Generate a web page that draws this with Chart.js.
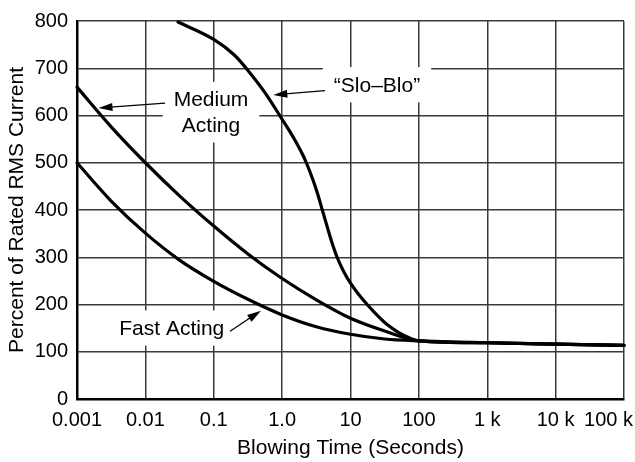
<!DOCTYPE html>
<html><head><meta charset="utf-8">
<script src="https://cdn.jsdelivr.net/npm/chart.js@4/dist/chart.umd.min.js"></script>
<style>html,body{margin:0;padding:0;background:#fff}#wrap{width:635px;height:462px}</style>
</head><body><div id="wrap"><canvas id="c" width="635" height="462"></canvas></div>
<script>
// ---- data ----
const xTickValues = [0.001, 0.01, 0.1, 1, 10, 100, 1000, 10000, 100000];
const xTickLabels = ['0.001', '0.01', '0.1', '1.0', '10', '100', '1 k', '10 k', '100 k'];

const tailTimes   = [1000, 10000, 100000, 125000];
const tailPercent = [119, 116, 113.5, 113];

const fastTimes   = [0.001, 0.00316, 0.01, 0.0316, 0.1, 0.316, 1.0, 3.16, 10, 31.6, 100];
const fastPercent = [500, 419, 351, 294, 249, 211, 178, 153, 137, 127, 123];

const mediumTimes   = [0.001, 0.00316, 0.01, 0.0316, 0.1, 0.316, 1.0, 3.16, 10, 31.6, 100];
const mediumPercent = [660, 576, 500, 430, 366, 307, 255, 210, 171, 144, 123];

const sloTimes   = [0.03, 0.1, 0.2, 0.31, 0.57, 1.0, 1.26, 1.58, 2.0, 2.26, 2.82, 3.31, 3.85, 4.47, 5.25, 6.37, 7.94, 10, 13.2, 17.5, 25.1, 34, 50, 70.8, 100];
const sloPercent = [798, 761, 728, 697, 647, 592, 569, 545, 517, 500, 464, 434, 401, 369, 335, 300, 270, 245, 221, 200, 176, 158, 141, 130, 123];

// annotation text anchors (data coordinates)
const notes = [
  { lines: ['Medium', 'Acting'], x: 0.0912, y: 605, from: [0.0194, 626], to: [0.00206, 615.7] },
  { lines: ['\u201cSlo\u2013Blo\u201d'], x: 24.4, y: 663, from: [4.24, 652.5], to: [0.743, 643.5] },
  { lines: ['Fast Acting'], x: 0.0243, y: 148, from: [0.173, 143.4], to: [0.491, 187] }
];

const FONT = "'Liberation Sans', Arial, Helvetica, sans-serif";

function pts(xs, ys) { return xs.map((x, i) => ({ x: x, y: ys[i] })); }
function withTail(xs, ys) { return pts(xs.concat(tailTimes), ys.concat(tailPercent)); }

const lineStyle = {
  borderColor: '#000', borderWidth: 3.2, pointRadius: 0, fill: false,
  cubicInterpolationMode: 'monotone', borderCapStyle: 'round', borderJoinStyle: 'round', clip: 8
};

const notesPlugin = {
  id: 'notes',
  beforeDatasetsDraw(chart) {
    const ctx = chart.ctx, sx = chart.scales.x, sy = chart.scales.y;
    ctx.save();
    ctx.font = '21px ' + FONT;
    notes.forEach(n => {
      const cx = sx.getPixelForValue(n.x), cy = sy.getPixelForValue(n.y);
      const lh = 25.3;
      const w = Math.max(...n.lines.map(l => ctx.measureText(l).width));
      const h = n.lines.length * lh + 10;
      ctx.fillStyle = '#fff';
      ctx.fillRect(cx - w / 2 - 11, cy - h / 2 - 1, w + 22, h);
      ctx.fillStyle = '#000';
      ctx.textAlign = 'center';
      ctx.textBaseline = 'middle';
      n.lines.forEach((l, i) => {
        ctx.fillText(l, cx, cy + (i - (n.lines.length - 1) / 2) * lh);
      });
      // arrow
      const x0 = sx.getPixelForValue(n.from[0]), y0 = sy.getPixelForValue(n.from[1]);
      const x1 = sx.getPixelForValue(n.to[0]), y1 = sy.getPixelForValue(n.to[1]);
      const ang = Math.atan2(y1 - y0, x1 - x0);
      const L = 14, W = 4;
      const bx = x1 - L * Math.cos(ang), by = y1 - L * Math.sin(ang);
      ctx.strokeStyle = '#000';
      ctx.lineWidth = 1.3;
      ctx.beginPath(); ctx.moveTo(x0, y0); ctx.lineTo(bx + 2 * Math.cos(ang), by + 2 * Math.sin(ang)); ctx.stroke();
      ctx.beginPath();
      ctx.moveTo(x1, y1);
      ctx.lineTo(bx + W * Math.sin(ang), by - W * Math.cos(ang));
      ctx.lineTo(bx - W * Math.sin(ang), by + W * Math.cos(ang));
      ctx.closePath(); ctx.fill();
    });
    ctx.restore();
  },
  afterDraw(chart) {
    // last x tick label, kept inside the canvas like the reference
    const ctx = chart.ctx, sx = chart.scales.x;
    const last = xTickLabels.length - 1;
    ctx.save();
    ctx.font = '20px ' + FONT;
    ctx.fillStyle = '#000';
    ctx.textAlign = 'right';
    ctx.textBaseline = 'middle';
    const w = ctx.measureText(xTickLabels[last]).width;
    const x = Math.min(sx.getPixelForValue(xTickValues[last]) + w / 2, chart.width - 2);
    ctx.fillText(xTickLabels[last], x, chart.chartArea.bottom + 21);
    ctx.restore();
  }
};

new Chart(document.getElementById('c'), {
  type: 'line',
  data: {
    datasets: [
      Object.assign({ label: 'Fast Acting', data: withTail(fastTimes, fastPercent) }, lineStyle),
      Object.assign({ label: 'Medium Acting', data: withTail(mediumTimes, mediumPercent) }, lineStyle),
      Object.assign({ label: 'Slo-Blo', data: withTail(sloTimes, sloPercent) }, lineStyle)
    ]
  },
  options: {
    responsive: false, animation: false, devicePixelRatio: 1,
    layout: { padding: { top: 14, right: 11, left: 0, bottom: 0 } },
    plugins: { legend: { display: false }, tooltip: { enabled: false } },
    scales: {
      x: {
        type: 'logarithmic', min: 0.001, max: 100000,
        afterBuildTicks(scale) { scale.ticks = xTickValues.map(v => ({ value: v })); },
        afterFit(scale) { scale.height = 63; },
        ticks: {
          autoSkip: false, maxRotation: 0, padding: 9, color: '#000',
          font: { family: FONT, size: 20 },
          callback(v, i) { return i === xTickLabels.length - 1 ? '' : xTickLabels[i]; }
        },
        grid: { color: '#3a3a3a', lineWidth: 1.5, drawTicks: false },
        border: { display: true, color: '#000', width: 2.5 },
        title: { display: true, text: 'Blowing Time (Seconds)', color: '#000',
                 font: { family: FONT, size: 21 }, padding: { top: 0, bottom: 1 } }
      },
      y: {
        type: 'linear', min: 0, max: 800,
        afterFit(scale) { scale.width = 77; },
        ticks: { stepSize: 100, padding: 9, color: '#000', font: { family: FONT, size: 20 } },
        grid: { color: '#3a3a3a', lineWidth: 1.5, drawTicks: false },
        border: { display: true, color: '#000', width: 2.5 },
        title: { display: true, text: 'Percent of Rated RMS Current', color: '#000',
                 font: { family: FONT, size: 21 }, padding: { top: 5, bottom: 0 } }
      }
    }
  },
  plugins: [notesPlugin]
});
</script></body></html>
